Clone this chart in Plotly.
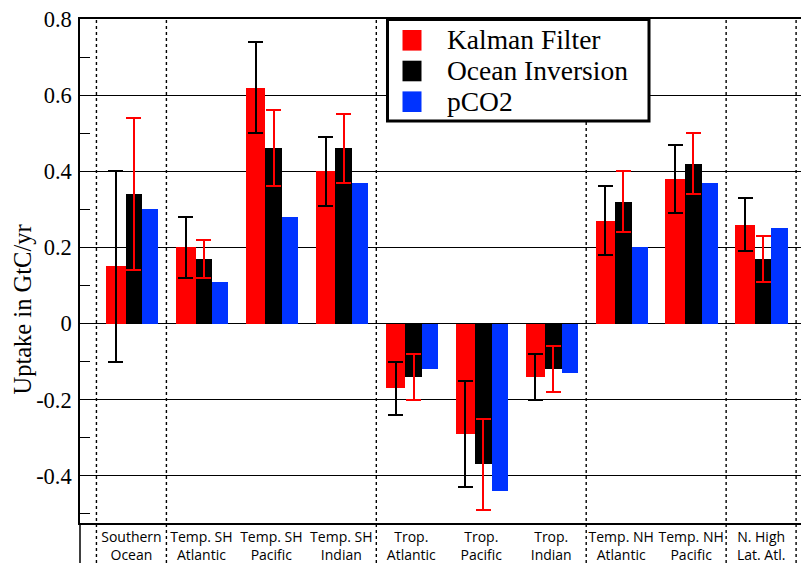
import plotly.graph_objects as go

# Regional ocean carbon uptake (GtC/yr) from three estimation methods
regions = ["Southern Ocean", "Temp. SH Atlantic", "Temp. SH Pacific", "Temp. SH Indian",
           "Trop. Atlantic", "Trop. Pacific", "Trop. Indian",
           "Temp. NH Atlantic", "Temp. NH Pacific", "N. High Lat. Atl."]
region_labels = ["Southern<br>Ocean", "Temp. SH<br>Atlantic", "Temp. SH<br>Pacific", "Temp. SH<br>Indian",
                 "Trop.<br>Atlantic", "Trop.<br>Pacific", "Trop.<br>Indian",
                 "Temp. NH<br>Atlantic", "Temp. NH<br>Pacific", "N. High<br>Lat. Atl."]

kalman = [0.15, 0.20, 0.62, 0.40, -0.17, -0.29, -0.14, 0.27, 0.38, 0.26]
kalman_err = [0.25, 0.08, 0.12, 0.09, 0.07, 0.14, 0.06, 0.09, 0.09, 0.07]
inversion = [0.34, 0.17, 0.46, 0.46, -0.14, -0.37, -0.12, 0.32, 0.42, 0.17]
inversion_err = [0.20, 0.05, 0.10, 0.09, 0.06, 0.12, 0.06, 0.08, 0.08, 0.06]
pco2 = [0.30, 0.11, 0.28, 0.37, -0.12, -0.44, -0.13, 0.20, 0.37, 0.25]

y_ticks = [0.8, 0.6, 0.4, 0.2, 0, -0.2, -0.4]
y_tick_text = ["0.8", "0.6", "0.4", "0.2", "0", "-0.2", "-0.4"]
group_edges = [-0.5, 0.5, 3.5, 6.5, 8.5, 9.5]

RED = "#ff0000"
BLACK = "#000000"
BLUE = "#0033ff"
SERIF = "Liberation Serif, Times New Roman, serif"
SANS = "Open Sans, sans-serif"

W, H = 801, 563
L, R, T, B = 80, 0, 19, 40
PW, PH = W - L - R, H - T - B


def px_x(px):
    return (px - L) / PW


def px_y(py):
    return (H - B - py) / PH


fig = go.Figure()
fig.add_trace(go.Bar(
    x=regions, y=kalman, name="Kalman Filter", marker=dict(color=RED, line=dict(width=0)),
    offset=-0.367, width=0.283,
    error_y=dict(type="data", array=kalman_err, visible=True, color=BLACK, thickness=2, width=7.5),
))
fig.add_trace(go.Bar(
    x=regions, y=inversion, name="Ocean Inversion", marker=dict(color=BLACK, line=dict(width=0)),
    offset=-0.084, width=0.232,
    error_y=dict(type="data", array=inversion_err, visible=True, color=RED, thickness=2, width=7.5),
))
fig.add_trace(go.Bar(
    x=regions, y=pco2, name="pCO2", marker=dict(color=BLUE, line=dict(width=0)),
    offset=0.148, width=0.233,
))

shapes = []
# dotted separators between ocean basins, running down through the label band
for e in group_edges:
    shapes.append(dict(type="line", xref="x", yref="paper", x0=e, x1=e,
                       y0=px_y(H), y1=1, line=dict(color=BLACK, width=1.4, dash="3px,3px"),
                       layer="below"))
# left axis line continues beside the labels
shapes.append(dict(type="line", xref="paper", yref="paper", x0=0, x1=0,
                   y0=px_y(H), y1=0, line=dict(color=BLACK, width=1.5)))

# legend box
shapes.append(dict(type="rect", xref="paper", yref="paper",
                   x0=px_x(387.5), x1=px_x(649), y0=px_y(121), y1=px_y(19.5),
                   fillcolor="white", line=dict(color=BLACK, width=3), layer="above"))
legend_items = [("Kalman Filter", RED, 40.3), ("Ocean Inversion", BLACK, 71), ("pCO2", BLUE, 101.7)]
annotations = []
for name, col, cy in legend_items:
    shapes.append(dict(type="rect", xref="paper", yref="paper",
                       x0=px_x(402.5), x1=px_x(421.5), y0=px_y(cy + 10.3), y1=px_y(cy - 10.3),
                       fillcolor=col, line=dict(width=0), layer="above"))
    annotations.append(dict(text=name, xref="paper", yref="paper", x=px_x(445), y=px_y(cy - 0.5),
                            xanchor="left", yanchor="middle", showarrow=False,
                            font=dict(family=SERIF, size=27.5, color=BLACK)))

annotations.append(dict(text="Uptake in GtC/yr", xref="paper", yref="paper",
                        x=px_x(21.5), y=px_y(310), xanchor="center", yanchor="middle",
                        textangle=-90, showarrow=False,
                        font=dict(family=SERIF, size=24.5, color=BLACK)))

fig.update_layout(
    width=W, height=H,
    margin=dict(l=L, r=R, t=T, b=B, pad=0, autoexpand=False),
    paper_bgcolor="white", plot_bgcolor="white",
    barmode="overlay", bargap=0,
    showlegend=False,
    shapes=shapes, annotations=annotations,
    xaxis=dict(
        type="category", categoryorder="array", categoryarray=regions,
        range=[-0.735, 9.57],
        tickmode="array", tickvals=regions, ticktext=region_labels,
        tickfont=dict(family=SANS, size=14, color=BLACK), tickangle=0, automargin=False,
        ticks="", showgrid=False, zeroline=False,
        showline=True, linecolor=BLACK, linewidth=1.5, mirror=True,
    ),
    yaxis=dict(
        range=[-0.524, 0.8], automargin=False,
        tickmode="array", tickvals=y_ticks, ticktext=y_tick_text,
        tickfont=dict(family=SERIF, size=22.5, color=BLACK),
        ticks="inside", ticklen=10, tickwidth=1.3, tickcolor=BLACK,
        minor=dict(tickmode="array", tickvals=[0.7, 0.5, 0.3, 0.1, -0.1, -0.3, -0.5],
                   ticks="inside", ticklen=10, tickwidth=1.3, tickcolor=BLACK, showgrid=False),
        showgrid=True, gridcolor=BLACK, gridwidth=1.4,
        zeroline=True, zerolinecolor=BLACK, zerolinewidth=1.4,
        showline=True, linecolor=BLACK, linewidth=1.5,
        ticklabelstandoff=2,
    ),
)

fig.write_html("out.html")
